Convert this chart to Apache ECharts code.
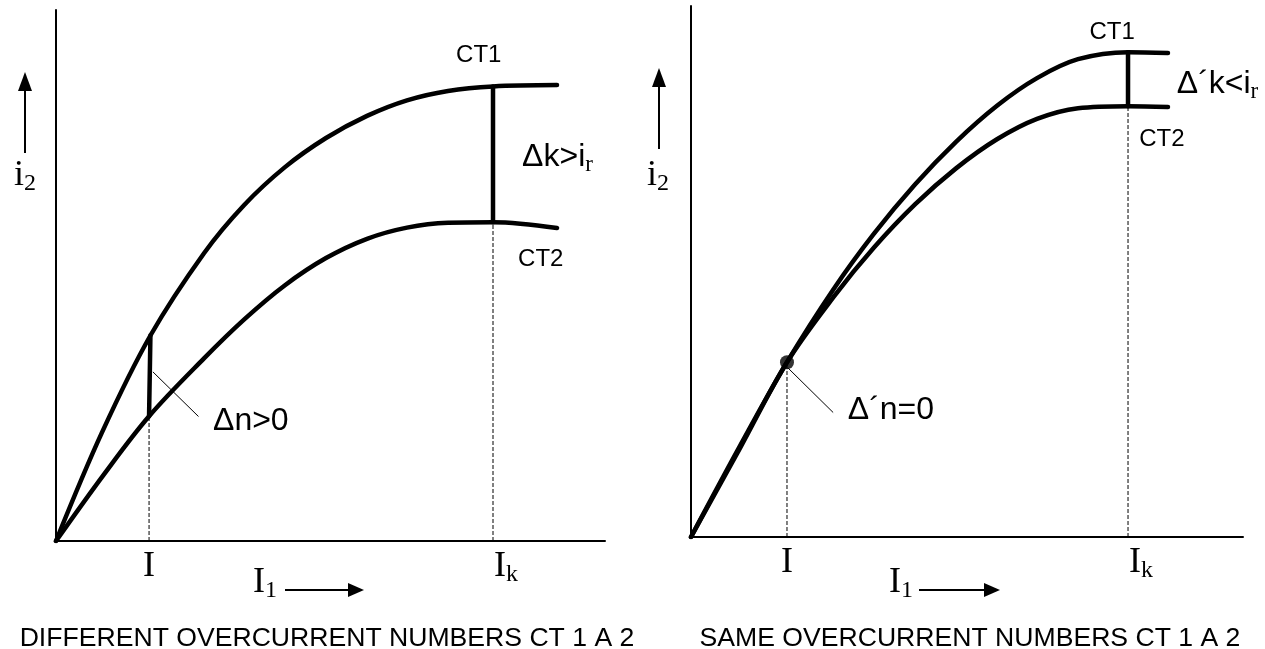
<!DOCTYPE html>
<html>
<head>
<meta charset="utf-8">
<script src="https://cdn.jsdelivr.net/npm/echarts@6/dist/echarts.min.js"></script>
<style>
html,body{margin:0;padding:0;background:#fff;}
#chart{width:1265px;height:649px;}
</style>
</head>
<body>
<div id="chart"></div>
<script>
// ---------- data (axis units 0..100) ----------
const leftI = 16.95, leftIk = 79.6;
const leftCT1 = [[0,0],[8.38,20.45],[17.2,38.7],[26.96,54.2],[34.24,63.24],[41.71,70.41],[49.18,75.89],[56.65,80.06],[63.93,82.99],[71.4,84.76],[79.6,85.61],[91.26,85.86]];
const leftCT2 = [[0,0],[8.74,12.56],[16.95,23.5],[26.96,34.39],[34.24,41.69],[41.71,48.17],[49.18,53.28],[56.65,56.91],[63.93,59.02],[71.4,59.94],[79.6,60.04],[91.26,58.95]];
const leftGapI = [[16.95,23.5],[17.2,38.7]];
const leftGapIk = [[79.6,60.04],[79.6,85.61]];
const leftPointer = [[17.7,31.8],[25.9,23.5]];

const rightI = 17.39, rightIk = 79.17;
const rightCT1 = [[0,0],[8.88,17.16],[17.39,32.92],[25.91,46.82],[33.15,57.14],[40.58,66.4],[48.01,74.43],[55.43,81.22],[62.68,86.42],[70.11,89.98],[79.17,91.3],[86.41,91.15]];
const rightCT2 = [[0,0],[8.88,16.75],[17.39,32.92],[25.91,45.31],[33.15,54.5],[40.58,62.62],[48.01,69.42],[55.43,74.9],[62.68,78.74],[70.11,80.75],[79.17,81.13],[86.41,80.98]];
const rightGapIk = [[79.17,81.13],[79.17,91.3]];
const rightPointer = [[17.6,31.8],[25.7,23.5]];
const rightDot = [[17.39,32.92]];

// annotation labels: [x, y, text, placement]
const leftLabels = [
  [77.0, 91.5, '{c|CT1}', 'inside'],
  [88.3, 53.1, '{c|CT2}', 'inside'],
  [84.9, 72.3, '{a|Δk>i}{r|r}', 'right'],
  [28.6, 22.6, '{a|Δn>0}', 'right']
];
const rightLabels = [
  [76.3, 95.1, '{c|CT1}', 'inside'],
  [85.3, 74.8, '{c|CT2}', 'inside'],
  [88.0, 85.3, '{a|Δ´k<i}{r|r}', 'right'],
  [28.4, 23.9, '{a|Δ´n=0}', 'right']
];
const captions = ['DIFFERENT OVERCURRENT NUMBERS CT 1 A 2', 'SAME OVERCURRENT NUMBERS CT 1 A 2'];

// ---------- styles ----------
const SANS = 'Liberation Sans, Arial, sans-serif';
const SERIF = 'Liberation Serif, Times New Roman, serif';
const annRich = {
  a: {fontFamily: SANS, fontSize: 32, color: '#000', lineHeight: 38},
  r: {fontFamily: SERIF, fontSize: 23, color: '#000', lineHeight: 23, verticalAlign: 'bottom'},
  c: {fontFamily: SANS, fontSize: 24, color: '#000'}
};
const axRich = {
  m: {fontFamily: SERIF, fontSize: 36, color: '#000', lineHeight: 40},
  k: {fontFamily: SERIF, fontSize: 36, color: '#000', lineHeight: 40, padding: [0,0,0,26]},
  s: {fontFamily: SERIF, fontSize: 24, color: '#000', lineHeight: 24, verticalAlign: 'bottom'}
};

function xAxisFor(gi, I, Ik) {
  return {
    type: 'value', gridIndex: gi, min: 0, max: 100,
    axisLine: {show: true, lineStyle: {color: '#000', width: 2}},
    axisTick: {show: false}, splitLine: {show: false},
    axisLabel: {
      show: true, customValues: [I, Ik], margin: 6, rich: axRich, color: '#000',
      formatter: v => Math.abs(v - I) < 1e-6 ? '{m|I}' : '{k|I}{s|k}'
    }
  };
}
function yAxisFor(gi) {
  return {
    type: 'value', gridIndex: gi, min: 0, max: 100,
    axisLine: {show: true, lineStyle: {color: '#000', width: 2}},
    axisTick: {show: false}, splitLine: {show: false}, axisLabel: {show: false}
  };
}
function line(gi, data, width, opts) {
  return Object.assign({
    type: 'line', xAxisIndex: gi, yAxisIndex: gi, data: data,
    showSymbol: false, symbol: 'none', silent: true,
    lineStyle: {color: '#000', width: width, cap: 'round', join: 'round'}
  }, opts || {});
}
function curve(gi, data) {
  return line(gi, data, 4.5, {smooth: 0.35});
}
function dashed(gi, x, yTop) {
  return line(gi, [[x, 0], [x, yTop]], 1, {lineStyle: {color: '#000', width: 1, type: [4, 2]}});
}
function labels(gi, arr) {
  return {
    type: 'scatter', xAxisIndex: gi, yAxisIndex: gi, symbolSize: 0, silent: true,
    itemStyle: {color: '#000', opacity: 0},
    data: arr.map(d => ({
      value: [d[0], d[1]],
      label: {show: true, position: d[3], distance: 0, formatter: d[2], rich: annRich,
              color: '#000', textBorderWidth: 0, opacity: 1}
    }))
  };
}

const series = [
  curve(0, leftCT1),
  curve(0, leftCT2),
  line(0, leftGapI, 4.5),
  line(0, leftGapIk, 4.5),
  dashed(0, leftI, leftGapI[0][1]),
  dashed(0, leftIk, leftGapIk[0][1]),
  line(0, leftPointer, 1),
  labels(0, leftLabels),
  curve(1, rightCT1),
  curve(1, rightCT2),
  line(1, rightGapIk, 4.5),
  dashed(1, rightI, rightDot[0][1]),
  dashed(1, rightIk, rightGapIk[0][1]),
  line(1, rightPointer, 1),
  {type: 'scatter', xAxisIndex: 1, yAxisIndex: 1, data: rightDot, symbolSize: 14, itemStyle: {color: '#000'}, silent: true},
  labels(1, rightLabels)
];

function arrowUp(x, yBottom, yTop) {
  return [
    {type: 'line', shape: {x1: x, y1: yBottom, x2: x, y2: yTop + 16}, style: {stroke: '#000', lineWidth: 2}},
    {type: 'polygon', shape: {points: [[x - 7, yTop + 19], [x + 7, yTop + 19], [x, yTop]]}, style: {fill: '#000'}}
  ];
}
function arrowRight(y, xLeft, xRight) {
  return [
    {type: 'line', shape: {x1: xLeft, y1: y, x2: xRight - 14, y2: y}, style: {stroke: '#000', lineWidth: 2}},
    {type: 'polygon', shape: {points: [[xRight - 16, y - 7], [xRight - 16, y + 7], [xRight, y]]}, style: {fill: '#000'}}
  ];
}
function axisName(x, y, main, sub) {
  return {type: 'text', x: x, y: y, style: {text: '{m|' + main + '}{s|' + sub + '}', rich: axRich, verticalAlign: 'middle', align: 'left'}};
}

const graphic = [].concat(
  arrowUp(25, 153, 72), arrowUp(659, 149, 68),
  arrowRight(590, 285, 364), arrowRight(590, 919, 1000),
  [axisName(14, 176, 'i', '2'), axisName(647, 176, 'i', '2'),
   axisName(253, 583, 'I', '1'), axisName(889, 583, 'I', '1')]
);

const chart = echarts.init(document.getElementById('chart'), null, {renderer: 'canvas'});
chart.setOption({
  animation: false,
  backgroundColor: '#fff',
  title: [
    {text: captions[0], left: 322, top: 620, textAlign: 'center', textStyle: {fontFamily: SANS, fontSize: 26.6, fontWeight: 'normal', color: '#000'}},
    {text: captions[1], left: 965, top: 620, textAlign: 'center', textStyle: {fontFamily: SANS, fontSize: 26.6, fontWeight: 'normal', color: '#000'}}
  ],
  grid: [
    {left: 56, top: 10, width: 549, height: 531},
    {left: 691, top: 6, width: 552, height: 531}
  ],
  xAxis: [xAxisFor(0, leftI, leftIk), xAxisFor(1, rightI, rightIk)],
  yAxis: [yAxisFor(0), yAxisFor(1)],
  series: series,
  graphic: graphic
});
</script>
</body>
</html>
